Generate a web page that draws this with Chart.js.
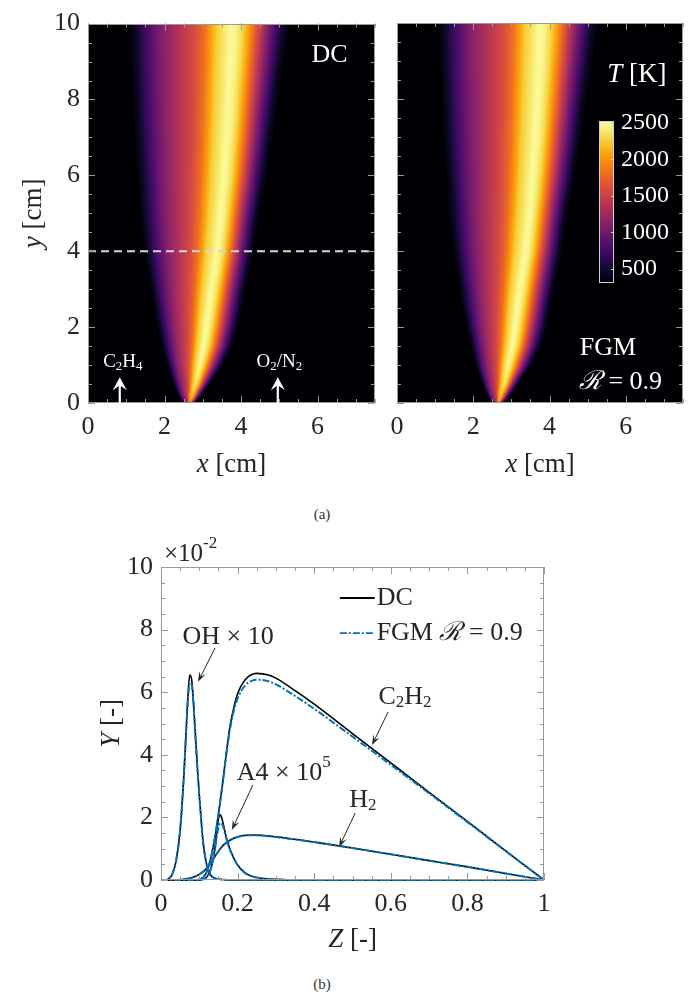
<!DOCTYPE html>
<html>
<head>
<meta charset="utf-8">
<title>Flame temperature and species profiles</title>
<script src="https://cdn.jsdelivr.net/npm/chart.js@4.4.1/dist/chart.umd.min.js"></script>
<style>
  html, body { margin: 0; padding: 0; background: #fff; }
  body { position: relative; width: 689px; height: 994px; overflow: hidden; }
  canvas { position: absolute; }
  .caption { position: absolute; width: 60px; text-align: center; font: 15px 'Liberation Serif', serif; color: #333; }
</style>
</head>
<body>
<canvas id="dcField" width="380" height="490" style="left:0;top:0"></canvas>
<canvas id="fgmField" width="309" height="490" style="left:380px;top:0"></canvas>
<canvas id="colorBar" width="125" height="205" style="left:560px;top:100px"></canvas>
<div class="caption" style="left:292px;top:506px">(a)</div>
<canvas id="speciesChart" width="689" height="450" style="left:0;top:520px"></canvas>
<div class="caption" style="left:292px;top:976px">(b)</div>
<script>
// ---- panel (a): flame shape (FGM map looks the same) ----
const flameY    = [0, 0.1, 0.25, 0.5, 1, 1.5, 2, 3, 4, 5, 6, 7, 8, 9, 10];
const fuelEdgeX = [2.52, 2.42, 2.33, 2.22, 2.05, 1.92, 1.8, 1.62, 1.45, 1.35, 1.27, 1.2, 1.15, 1.1, 1.07];
const peakX     = [2.65, 2.68, 2.72, 2.8, 2.9, 3.0, 3.07, 3.2, 3.35, 3.45, 3.53, 3.6, 3.65, 3.7, 3.73];
const oxEdgeX   = [2.78, 2.9, 3.02, 3.2, 3.55, 3.8, 3.95, 4.15, 4.35, 4.5, 4.7, 4.85, 5.0, 5.15, 5.3];
const peakT     = [1900, 2100, 2250, 2380, 2470, 2500, 2500, 2500, 2500, 2500, 2500, 2500, 2500, 2500, 2500];
// temperature across the flame, by fraction of the way from edge to peak
const fuelSideFrac = [0, 0.07, 0.15, 0.25, 0.35, 0.5, 0.64, 0.74, 0.86, 1];
const fuelSideT    = [300, 450, 700, 950, 1150, 1380, 1580, 1800, 2250, 2500];
const oxSideFrac   = [0, 0.1, 0.2, 0.3, 0.4, 0.52, 0.64, 0.76, 0.88, 1];
const oxSideT      = [2500, 2450, 2300, 2050, 1750, 1400, 1050, 750, 450, 300];

const cmTicks = [0, 2, 4, 6];
const cmTickLabels = ['0', '2', '4', '6'];
const heightTicks = [0, 2, 4, 6, 8, 10];
const heightTickLabels = ['0', '2', '4', '6', '8', '10'];
const tempTicks = [500, 1000, 1500, 2000, 2500];
const tempTickLabels = ['500', '1000', '1500', '2000', '2500'];

// ---- panel (b): mass fractions vs mixture fraction ----
const ohZ    = [0, 0.01, 0.02, 0.03, 0.04, 0.05, 0.06, 0.065, 0.07, 0.075, 0.08, 0.085, 0.09, 0.095, 0.1, 0.105, 0.11, 0.12, 0.13, 0.15, 0.2, 0.4, 1];
const ohDC   = [0, 0, 0.0004, 0.002, 0.0065, 0.016, 0.034, 0.046, 0.058, 0.0655, 0.064, 0.0565, 0.046, 0.036, 0.027, 0.019, 0.012, 0.0045, 0.0015, 0.0003, 0, 0, 0];
const ohFGM  = [0, 0, 0.0004, 0.002, 0.0065, 0.016, 0.034, 0.046, 0.057, 0.063, 0.0625, 0.0555, 0.0455, 0.0358, 0.027, 0.019, 0.012, 0.0045, 0.0015, 0.0003, 0, 0, 0];

const c2h2Z   = [0, 0.09, 0.1, 0.11, 0.12, 0.13, 0.14, 0.15, 0.16, 0.17, 0.18, 0.19, 0.2, 0.22, 0.25, 0.28, 0.3, 0.35, 0.4, 0.5, 0.6, 0.7, 0.8, 0.9, 1];
const c2h2DC  = [0, 0, 0.0002, 0.0008, 0.0028, 0.007, 0.013, 0.021, 0.03, 0.04, 0.049, 0.055, 0.0595, 0.064, 0.066, 0.0655, 0.0645, 0.0605, 0.0562, 0.0468, 0.0374, 0.028, 0.0187, 0.0093, 0];
const c2h2FGM = [0, 0, 0.0002, 0.0008, 0.0028, 0.007, 0.013, 0.021, 0.03, 0.0395, 0.048, 0.054, 0.058, 0.0622, 0.064, 0.0635, 0.0625, 0.0588, 0.0547, 0.0458, 0.0368, 0.0277, 0.0185, 0.0092, 0];

const a4Z   = [0, 0.1, 0.11, 0.12, 0.13, 0.14, 0.145, 0.15, 0.155, 0.16, 0.17, 0.18, 0.19, 0.2, 0.22, 0.25, 0.3, 0.35, 1];
const a4DC  = [0, 0, 0.0002, 0.001, 0.0035, 0.0095, 0.0145, 0.0195, 0.0208, 0.0192, 0.0138, 0.0098, 0.007, 0.0048, 0.0022, 0.0008, 0.0002, 0, 0];
const a4FGM = [0, 0, 0.0002, 0.001, 0.0035, 0.009, 0.0132, 0.0168, 0.0182, 0.0178, 0.0135, 0.0097, 0.007, 0.0048, 0.0022, 0.0008, 0.0002, 0, 0];

const h2Z   = [0, 0.04, 0.06, 0.08, 0.1, 0.12, 0.14, 0.16, 0.18, 0.2, 0.23, 0.26, 0.3, 0.4, 0.5, 0.6, 0.7, 0.8, 0.9, 1];
const h2DC  = [0, 0, 0.0002, 0.0007, 0.0018, 0.0038, 0.0074, 0.0108, 0.0127, 0.0138, 0.0144, 0.0143, 0.0138, 0.0121, 0.0102, 0.0082, 0.0062, 0.0042, 0.0021, 0];
const h2FGM = [0, 0, 0.0002, 0.0007, 0.0018, 0.0038, 0.0074, 0.0107, 0.0126, 0.0137, 0.0143, 0.0142, 0.0137, 0.0121, 0.0102, 0.0082, 0.0062, 0.0042, 0.0021, 0];

const zTicks = [0, 0.2, 0.4, 0.6, 0.8, 1];
const zTickLabels = ['0', '0.2', '0.4', '0.6', '0.8', '1'];
const massTicks = [0, 0.02, 0.04, 0.06, 0.08, 0.1];
const massTickLabels = ['0', '2', '4', '6', '8', '10'];

// ---- styling ----
const SERIF = "'Liberation Serif', 'DejaVu Serif', serif";
const INK = '#262626';
const BOX_GRAY = '#9a9a9a';
const DC_COLOR = '#000000';
const FGM_COLOR = '#0072bd';
const FGM_DASH = [7, 2, 2, 2];
const T_AMB = 300, T_TOP = 2520;
const INFERNO = ['#000004', '#160b39', '#420a68', '#6a176e', '#932667', '#bc3754',
                 '#dd513a', '#f37819', '#fca50a', '#f6d746', '#fcffa4'];

function font(size, italic) { return (italic ? 'italic ' : '') + size + 'px ' + SERIF; }

function lerpArr(xs, ys, x) {
    if (x <= xs[0]) return ys[0];
    if (x >= xs[xs.length - 1]) return ys[ys.length - 1];
    let i = 1;
    while (xs[i] < x) i++;
    const f = (x - xs[i - 1]) / (xs[i] - xs[i - 1]);
    return ys[i - 1] + f * (ys[i] - ys[i - 1]);
}

const infernoRgb = INFERNO.map(h => [1, 3, 5].map(k => parseInt(h.substr(k, 2), 16)));
function inferno(t) {
    t = Math.max(0, Math.min(1, t)) * (infernoRgb.length - 1);
    const i = Math.min(Math.floor(t), infernoRgb.length - 2), f = t - i;
    return infernoRgb[i].map((c, k) => Math.round(c + f * (infernoRgb[i + 1][k] - c)));
}

function flameT(x, y) {
    const l = lerpArr(flameY, fuelEdgeX, y), p = lerpArr(flameY, peakX, y);
    const r = lerpArr(flameY, oxEdgeX, y), tp = lerpArr(flameY, peakT, y);
    if (x <= l || x >= r) return T_AMB;
    const t = x < p ? lerpArr(fuelSideFrac, fuelSideT, (x - l) / (p - l))
                    : lerpArr(oxSideFrac, oxSideT, (x - p) / (r - p));
    return T_AMB + (t - T_AMB) * (tp - T_AMB) / (2500 - T_AMB);
}

// rasterise the field once; it is placed on the axes through the scales
function buildField() {
    const NX = 300, NY = 400;
    const c = document.createElement('canvas');
    c.width = NX; c.height = NY;
    const g = c.getContext('2d');
    const img = g.createImageData(NX, NY);
    for (let j = 0; j < NY; j++) {
        const y = 10 - (j + 0.5) * 10 / NY;
        for (let i = 0; i < NX; i++) {
            const x = (i + 0.5) * 7.5 / NX;
            const rgb = inferno((flameT(x, y) - T_AMB) / (T_TOP - T_AMB));
            const k = (j * NX + i) * 4;
            img.data[k] = rgb[0]; img.data[k + 1] = rgb[1]; img.data[k + 2] = rgb[2]; img.data[k + 3] = 255;
        }
    }
    g.putImageData(img, 0, 0);
    return c;
}
const fieldImage = buildField();

function steps(from, to, step) {
    const out = [];
    for (let i = 0; from + i * step <= to + 1e-9; i++) out.push(from + i * step);
    return out;
}

// text made of pieces with their own size / italics / vertical shift
function drawRich(ctx, parts, x, y, align, color) {
    ctx.save();
    ctx.fillStyle = color;
    ctx.textBaseline = 'middle';
    ctx.textAlign = 'left';
    let w = 0;
    parts.forEach(p => { ctx.font = font(p.s, p.i); p.w = ctx.measureText(p.t).width; w += p.w; });
    let cx = align === 'center' ? x - w / 2 : (align === 'right' ? x - w : x);
    parts.forEach(p => {
        ctx.font = font(p.s, p.i);
        ctx.fillText(p.t, cx, y + (p.dy || 0));
        cx += p.w;
    });
    ctx.restore();
}

function drawBox(chart, xMajor, xMinor, yMajor, yMinor, color) {
    const { ctx, chartArea: a } = chart;
    const sx = chart.scales.x, sy = chart.scales.y;
    ctx.save();
    ctx.strokeStyle = color;
    ctx.lineWidth = 1;
    ctx.beginPath();
    const tickX = (v, len) => {
        const p = Math.round(sx.getPixelForValue(v)) + 0.5;
        ctx.moveTo(p, a.bottom); ctx.lineTo(p, a.bottom - len);
        ctx.moveTo(p, a.top); ctx.lineTo(p, a.top + len);
    };
    const tickY = (v, len) => {
        const p = Math.round(sy.getPixelForValue(v)) + 0.5;
        ctx.moveTo(a.left, p); ctx.lineTo(a.left + len, p);
        ctx.moveTo(a.right, p); ctx.lineTo(a.right - len, p);
    };
    xMinor.forEach(v => tickX(v, 4));
    xMajor.forEach(v => tickX(v, 7));
    yMinor.forEach(v => tickY(v, 4));
    yMajor.forEach(v => tickY(v, 7));
    ctx.stroke();
    ctx.strokeRect(Math.round(a.left) + 0.5, Math.round(a.top) + 0.5, Math.round(a.width) - 1, Math.round(a.height) - 1);
    ctx.restore();
}

function drawArrow(ctx, x0, y0, x1, y1, color, lw, headLen, headW) {
    const ang = Math.atan2(y1 - y0, x1 - x0);
    const ca = Math.cos(ang), sa = Math.sin(ang);
    ctx.save();
    ctx.strokeStyle = color; ctx.fillStyle = color; ctx.lineWidth = lw;
    ctx.beginPath();
    ctx.moveTo(x0, y0);
    ctx.lineTo(x1 - ca * headLen * 0.6, y1 - sa * headLen * 0.6);
    ctx.stroke();
    ctx.beginPath();
    ctx.moveTo(x1, y1);
    ctx.lineTo(x1 - ca * headLen - sa * headW, y1 - sa * headLen + ca * headW);
    ctx.lineTo(x1 - ca * headLen * 0.6, y1 - sa * headLen * 0.6);
    ctx.lineTo(x1 - ca * headLen + sa * headW, y1 - sa * headLen - ca * headW);
    ctx.closePath();
    ctx.fill();
    ctx.restore();
}

const fieldPlugin = {
    id: 'fieldImage',
    beforeDatasetsDraw(chart) {
        const { ctx, scales: { x, y } } = chart;
        const x0 = x.getPixelForValue(0), x1 = x.getPixelForValue(7.5);
        const y0 = y.getPixelForValue(10), y1 = y.getPixelForValue(0);
        ctx.save();
        ctx.imageSmoothingEnabled = true;
        ctx.drawImage(fieldImage, x0, y0, x1 - x0, y1 - y0);
        ctx.restore();
    },
    afterDatasetsDraw(chart) {
        drawBox(chart, cmTicks, steps(0, 7.5, 0.5), heightTicks, steps(0, 10, 0.5), BOX_GRAY);
    }
};

function fieldOptions(padLeft, padRight, yWidth, showY) {
    return {
        responsive: false,
        animation: false,
        events: [],
        layout: { padding: { left: padLeft, right: padRight, top: 23, bottom: 0 } },
        plugins: { legend: { display: false }, tooltip: { enabled: false } },
        scales: {
            x: {
                type: 'linear', min: 0, max: 7.5,
                grid: { display: false, drawTicks: false },
                border: { display: false },
                afterBuildTicks: s => { s.ticks = cmTicks.map(v => ({ value: v })); },
                ticks: { color: INK, font: { family: SERIF, size: 26 }, padding: 9, maxRotation: 0,
                         callback: (v, i) => cmTickLabels[i] },
                afterFit: s => { s.height = 87; }
            },
            y: {
                type: 'linear', min: 0, max: 10,
                display: showY,
                grid: { display: false, drawTicks: false },
                border: { display: false },
                afterBuildTicks: s => { s.ticks = heightTicks.map(v => ({ value: v })); },
                ticks: { color: INK, font: { family: SERIF, size: 26 }, padding: 8,
                         callback: (v, i) => heightTickLabels[i] },
                afterFit: s => { s.width = yWidth; }
            }
        }
    };
}

function whiteInletArrow(ctx, x, yBase, yTip) {
    ctx.save();
    ctx.strokeStyle = '#fff'; ctx.fillStyle = '#fff'; ctx.lineWidth = 2.2;
    ctx.beginPath(); ctx.moveTo(x, yBase); ctx.lineTo(x, yTip + 6); ctx.stroke();
    ctx.beginPath();
    ctx.moveTo(x, yTip);
    ctx.lineTo(x + 7, yTip + 13);
    ctx.lineTo(x, yTip + 8);
    ctx.lineTo(x - 7, yTip + 13);
    ctx.closePath();
    ctx.fill();
    ctx.restore();
}

// ---- DC temperature field ----
new Chart(document.getElementById('dcField'), {
    type: 'scatter',
    data: {
        datasets: [{
            data: [{ x: 0, y: 4 }, { x: 7.5, y: 4 }],
            showLine: true, pointRadius: 0,
            borderColor: '#d6d6d6', borderWidth: 2, borderDash: [8, 5]
        }]
    },
    options: fieldOptions(0, 5, 88, true),
    plugins: [fieldPlugin, {
        id: 'dcLabels',
        afterDraw(chart) {
            const { ctx, chartArea: a, scales: { x, y } } = chart;
            drawRich(ctx, [{ t: 'DC', s: 26 }], x.getPixelForValue(6.31), y.getPixelForValue(9.16), 'center', '#fff');
            drawRich(ctx, [{ t: 'C', s: 19 }, { t: '2', s: 13, dy: 5 }, { t: 'H', s: 19 }, { t: '4', s: 13, dy: 5 }],
                     x.getPixelForValue(0.91), y.getPixelForValue(1.08), 'center', '#fff');
            drawRich(ctx, [{ t: 'O', s: 19 }, { t: '2', s: 13, dy: 5 }, { t: '/N', s: 19 }, { t: '2', s: 13, dy: 5 }],
                     x.getPixelForValue(5.0), y.getPixelForValue(1.08), 'center', '#fff');
            whiteInletArrow(ctx, x.getPixelForValue(0.83), y.getPixelForValue(0), y.getPixelForValue(0.68));
            whiteInletArrow(ctx, x.getPixelForValue(4.96), y.getPixelForValue(0), y.getPixelForValue(0.68));
            // axis titles
            drawRich(ctx, [{ t: 'x', s: 27, i: true }, { t: ' [cm]', s: 27 }], (a.left + a.right) / 2, a.bottom + 62, 'center', INK);
            ctx.save();
            ctx.translate(a.left - 54, (a.top + a.bottom) / 2);
            ctx.rotate(-Math.PI / 2);
            drawRich(ctx, [{ t: 'y', s: 27, i: true }, { t: ' [cm]', s: 27 }], 0, 0, 'center', INK);
            ctx.restore();
        }
    }]
});

// ---- FGM temperature field ----
new Chart(document.getElementById('fgmField'), {
    type: 'scatter',
    data: { datasets: [] },
    options: fieldOptions(17, 6, 0, false),
    plugins: [fieldPlugin, {
        id: 'fgmLabels',
        afterDraw(chart) {
            const { ctx, chartArea: a, scales: { x, y } } = chart;
            drawRich(ctx, [{ t: 'T', s: 27, i: true }, { t: ' [K]', s: 27 }], x.getPixelForValue(6.29), y.getPixelForValue(8.63), 'center', '#fff');
            drawRich(ctx, [{ t: 'FGM', s: 26 }], x.getPixelForValue(5.53), y.getPixelForValue(1.45), 'center', '#fff');
            drawRich(ctx, [{ t: '\u211B', s: 26, i: true }, { t: ' = 0.9', s: 26 }], x.getPixelForValue(5.86), y.getPixelForValue(0.55), 'center', '#fff');
            drawRich(ctx, [{ t: 'x', s: 27, i: true }, { t: ' [cm]', s: 27 }], (a.left + a.right) / 2, a.bottom + 62, 'center', INK);
        }
    }]
});

// ---- colour bar ----
new Chart(document.getElementById('colorBar'), {
    type: 'scatter',
    data: { datasets: [] },
    options: {
        responsive: false, animation: false, events: [],
        layout: { padding: { left: 39, right: 0, top: 13, bottom: 14 } },
        plugins: { legend: { display: false }, tooltip: { enabled: false } },
        scales: {
            x: { type: 'linear', min: 0, max: 1, display: false },
            y: {
                type: 'linear', position: 'right', min: T_AMB, max: T_TOP,
                grid: { display: false, drawTicks: false },
                border: { display: false },
                afterBuildTicks: s => { s.ticks = tempTicks.map(v => ({ value: v })); },
                ticks: { color: '#fff', font: { family: SERIF, size: 24 }, padding: 7,
                         callback: (v, i) => tempTickLabels[i] },
                afterFit: s => { s.width = 71; }
            }
        }
    },
    plugins: [{
        id: 'colorRamp',
        beforeDatasetsDraw(chart) {
            const { ctx, chartArea: a, scales: { y } } = chart;
            ctx.save();
            for (let T = T_AMB; T < T_TOP; T += 5) {
                const top = y.getPixelForValue(Math.min(T + 5, T_TOP)), bot = y.getPixelForValue(T);
                const c = inferno((T + 2.5 - T_AMB) / (T_TOP - T_AMB));
                ctx.fillStyle = 'rgb(' + c.join(',') + ')';
                ctx.fillRect(a.left, top, a.width, bot - top + 0.6);
            }
            ctx.strokeStyle = '#cfcfcf';
            ctx.lineWidth = 1;
            ctx.beginPath();
            tempTicks.forEach(v => {
                const p = Math.round(y.getPixelForValue(v)) + 0.5;
                ctx.moveTo(a.right, p); ctx.lineTo(a.right - 3, p);
            });
            ctx.stroke();
            ctx.strokeRect(Math.round(a.left) + 0.5, Math.round(a.top) + 0.5, Math.round(a.width) - 1, Math.round(a.height) - 1);
            ctx.restore();
        }
    }]
});

// ---- species profiles ----
const zip = (xs, ys) => xs.map((v, i) => ({ x: v, y: ys[i] }));
const species = [
    { z: ohZ, dc: ohDC, fgm: ohFGM },
    { z: c2h2Z, dc: c2h2DC, fgm: c2h2FGM },
    { z: a4Z, dc: a4DC, fgm: a4FGM },
    { z: h2Z, dc: h2DC, fgm: h2FGM }
];
const lineCommon = { pointRadius: 0, cubicInterpolationMode: 'monotone', clip: 4, fill: false };
const speciesSets = [];
species.forEach(s => {
    speciesSets.push(Object.assign({ data: zip(s.z, s.dc), borderColor: DC_COLOR, borderWidth: 1.6, order: 1 }, lineCommon));
    speciesSets.push(Object.assign({ data: zip(s.z, s.fgm), borderColor: FGM_COLOR, borderWidth: 2,
                                     borderDash: FGM_DASH, order: 0 }, lineCommon));
});

new Chart(document.getElementById('speciesChart'), {
    type: 'line',
    data: { datasets: speciesSets },
    options: {
        responsive: false, animation: false, events: [],
        layout: { padding: { left: 0, right: 145, top: 47, bottom: 0 } },
        plugins: { legend: { display: false }, tooltip: { enabled: false } },
        scales: {
            x: {
                type: 'linear', min: 0, max: 1,
                grid: { display: false, drawTicks: false },
                border: { display: false },
                afterBuildTicks: s => { s.ticks = zTicks.map(v => ({ value: v })); },
                ticks: { color: INK, font: { family: SERIF, size: 26 }, padding: 9, maxRotation: 0,
                         callback: (v, i) => zTickLabels[i] },
                afterFit: s => { s.height = 90; }
            },
            y: {
                type: 'linear', min: 0, max: 0.1,
                grid: { display: false, drawTicks: false },
                border: { display: false },
                afterBuildTicks: s => { s.ticks = massTicks.map(v => ({ value: v })); },
                ticks: { color: INK, font: { family: SERIF, size: 26 }, padding: 8,
                         callback: (v, i) => massTickLabels[i] },
                afterFit: s => { s.width = 161; }
            }
        }
    },
    plugins: [{
        id: 'speciesDecor',
        afterDatasetsDraw(chart) {
            const { ctx, chartArea: a, scales: { x, y } } = chart;
            drawBox(chart, zTicks, steps(0, 1, 0.05), massTicks, steps(0, 0.1, 0.005), BOX_GRAY);
            const X = v => x.getPixelForValue(v), Y = v => y.getPixelForValue(v);

            // exponent above the axis
            drawRich(ctx, [{ t: '\u00D710', s: 25 }, { t: '-2', s: 17, dy: -10 }], a.left + 3, a.top - 13, 'left', INK);

            // legend
            ctx.save();
            ctx.lineWidth = 1.8; ctx.strokeStyle = DC_COLOR;
            ctx.beginPath(); ctx.moveTo(X(0.467), Y(0.0901)); ctx.lineTo(X(0.558), Y(0.0901)); ctx.stroke();
            ctx.lineWidth = 1.8; ctx.strokeStyle = FGM_COLOR; ctx.setLineDash(FGM_DASH);
            ctx.beginPath(); ctx.moveTo(X(0.467), Y(0.0789)); ctx.lineTo(X(0.558), Y(0.0789)); ctx.stroke();
            ctx.restore();
            drawRich(ctx, [{ t: 'DC', s: 26 }], X(0.563), Y(0.0901), 'left', INK);
            drawRich(ctx, [{ t: 'FGM ', s: 26 }, { t: '\u211B', s: 26, i: true }, { t: ' = 0.9', s: 26 }], X(0.563), Y(0.0789), 'left', INK);

            // species labels and arrows
            drawRich(ctx, [{ t: 'OH \u00D7 10', s: 26 }], X(0.175), Y(0.0776), 'center', INK);
            drawArrow(ctx, X(0.141), Y(0.0741), X(0.0966), Y(0.0633), INK, 1, 10, 3.5);
            drawRich(ctx, [{ t: 'C', s: 26 }, { t: '2', s: 17, dy: 6 }, { t: 'H', s: 26 }, { t: '2', s: 17, dy: 6 }],
                     X(0.637), Y(0.0585), 'center', INK);
            drawArrow(ctx, X(0.593), Y(0.0537), X(0.551), Y(0.0431), INK, 1, 10, 3.5);
            drawRich(ctx, [{ t: 'A4 \u00D7 10', s: 26 }, { t: '5', s: 17, dy: -10 }], X(0.198), Y(0.0342), 'left', INK);
            drawArrow(ctx, X(0.240), Y(0.0304), X(0.185), Y(0.016), INK, 1, 10, 3.5);
            drawRich(ctx, [{ t: 'H', s: 26 }, { t: '2', s: 17, dy: 6 }], X(0.527), Y(0.0256), 'center', INK);
            drawArrow(ctx, X(0.507), Y(0.0214), X(0.465), Y(0.0105), INK, 1, 10, 3.5);

            // axis titles
            drawRich(ctx, [{ t: 'Z', s: 27, i: true }, { t: ' [-]', s: 27 }], (a.left + a.right) / 2, a.bottom + 60, 'center', INK);
            ctx.save();
            ctx.translate(a.left - 49, (a.top + a.bottom) / 2);
            ctx.rotate(-Math.PI / 2);
            drawRich(ctx, [{ t: 'Y', s: 27, i: true }, { t: ' [-]', s: 27 }], 0, 0, 'center', INK);
            ctx.restore();
        }
    }]
});
</script>
</body>
</html>
